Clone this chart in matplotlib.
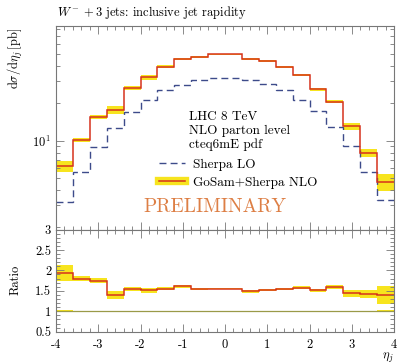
import numpy as np
import matplotlib
matplotlib.use("Agg")
import matplotlib.pyplot as plt
from matplotlib.lines import Line2D
from matplotlib.ticker import MultipleLocator, FixedLocator, NullFormatter, LogLocator

# ---- data ----
edges = np.linspace(-4, 4, 21)
nlo = [6.25, 10.1, 15.6, 17.7, 26.5, 32.4, 39.5, 45.6, 47.6, 49.8,
       49.8, 45.6, 43.9, 39.5, 33.9, 26.0, 20.6, 13.0, 8.0, 4.67]
ratio = [1.94, 1.80, 1.75, 1.39, 1.55, 1.51, 1.55, 1.61, 1.55, 1.55,
         1.55, 1.485, 1.525, 1.55, 1.58, 1.51, 1.59, 1.44, 1.43, 1.40]
nlo_relerr = [0.10, 0.04, 0.035, 0.07, 0.035, 0.04, 0.025, 0.02, 0.02, 0.01,
              0.01, 0.02, 0.015, 0.02, 0.025, 0.03, 0.03, 0.06, 0.07, 0.16]
lo_relerr = [0.02, 0.015, 0.012, 0.004, 0.003, 0.003, 0.003, 0.003, 0.003, 0.003,
             0.003, 0.003, 0.003, 0.003, 0.003, 0.003, 0.003, 0.004, 0.012, 0.02]
xticks = [-4, -3, -2, -1, 0, 1, 2, 3, 4]
xticklabels = ["-4", "-3", "-2", "-1", "0", "1", "2", "3", "4"]
rticks = [0.5, 1, 1.5, 2, 2.5, 3]
rticklabels = ["0.5", "1", "1.5", "2", "2.5", "3"]

nlo = np.array(nlo)
ratio_arr = np.array(ratio)
lo = nlo / ratio_arr
nlo_err = np.array(nlo_relerr)
lo_err = np.array(lo_relerr)

plt.rcParams["font.family"] = ["cmr10", "DejaVu Serif"]
plt.rcParams["mathtext.fontset"] = "cm"
plt.rcParams["axes.unicode_minus"] = False
plt.rcParams["axes.formatter.use_mathtext"] = True

RED = "#d6321c"
YEL = "#f7e41e"
BLUE = "#3d4b8a"
AXC = "#777777"

fig = plt.figure(figsize=(3.99, 3.64), dpi=100)
W, H = 399.0, 364.0
ax = fig.add_axes([56 / W, 1 - 229.5 / H, 338 / W, (229.5 - 26) / H])
rx = fig.add_axes([56 / W, 1 - 331.7 / H, 338 / W, (331.7 - 229.5) / H], sharex=ax)

# main panel
ax.stairs(nlo * (1 + nlo_err), edges, baseline=nlo * (1 - nlo_err), fill=True,
          color=YEL, lw=0)
ax.stairs(lo, edges, color=BLUE, lw=1.0, linestyle=(0, (5, 3)), baseline=None)
ax.stairs(nlo, edges, color=RED, lw=1.1, baseline=None)
ax.set_yscale("log")
ax.set_ylim(1.92, 84)
ax.set_xlim(-4, 4)

# ratio panel
rx.stairs(1 + lo_err, edges, baseline=1 - lo_err, fill=True, color=YEL, lw=0)
rx.axhline(1.0, color="#9a9a48", lw=0.9)
rx.stairs(ratio_arr * (1 + nlo_err), edges, baseline=ratio_arr * (1 - nlo_err),
          fill=True, color=YEL, lw=0)
rx.stairs(ratio_arr, edges, color=RED, lw=1.1, baseline=None)
rx.set_ylim(0.5, 3.0)
rx.set_xlim(-4, 4)

for a in (ax, rx):
    for s in a.spines.values():
        s.set_color(AXC)
        s.set_linewidth(0.8)
    a.tick_params(which="both", direction="in", top=True, right=True,
                  color=AXC, width=0.6, labelsize=9)
    a.tick_params(which="major", length=6)
    a.tick_params(which="minor", length=3)
    a.xaxis.set_major_locator(FixedLocator(xticks))
    a.xaxis.set_minor_locator(MultipleLocator(0.2))

ax.yaxis.set_major_locator(LogLocator(base=10, numticks=10))
ax.yaxis.set_minor_locator(LogLocator(base=10, subs=np.arange(2, 10), numticks=20))
ax.yaxis.set_minor_formatter(NullFormatter())
ax.tick_params(axis="x", labelbottom=False)

rx.set_xticks(xticks)
rx.set_xticklabels(xticklabels)
rx.set_yticks(rticks)
rx.set_yticklabels(rticklabels)
rx.yaxis.set_minor_locator(MultipleLocator(0.1))
rx.tick_params(axis="x", pad=5)

# labels
fig.text(57 / W, 1 - 12.5 / H, r"$W^- + 3$ jets: inclusive jet rapidity",
         ha="left", va="center", fontsize=9)
fig.text(15 / W, 1 - 28 / H, r"$\mathrm{d}\sigma/\mathrm{d}\eta_j\,[\mathrm{pb}]$",
         rotation=90, ha="center", va="top", fontsize=9)
fig.text(15 / W, 1 - 280 / H, "Ratio", rotation=90, ha="center", va="center",
         fontsize=9)
fig.text(394 / W, 1 - 358 / H, r"$\eta_j$", ha="right", va="center", fontsize=9)

ax.text(0.394, 0.555, "LHC 8 TeV", transform=ax.transAxes, fontsize=9.5,
        ha="left", va="center")
ax.text(0.394, 0.486, "NLO parton level", transform=ax.transAxes, fontsize=9.5,
        ha="left", va="center")
ax.text(0.394, 0.416, "cteq6mE pdf", transform=ax.transAxes, fontsize=9.5,
        ha="left", va="center")
ax.text(0.47, 0.11, "PRELIMINARY", transform=ax.transAxes, fontsize=14,
        color="#dd7f45", ha="center", va="center")

handles = [Line2D([], [], color=BLUE, lw=1.0, linestyle=(0, (5, 3))),
           (Line2D([], [], color=YEL, lw=6), Line2D([], [], color=RED, lw=1.1))]
labels = ["Sherpa LO", "GoSam+Sherpa NLO"]
ax.legend(handles, labels, loc="upper left", bbox_to_anchor=(0.305, 0.35),
          frameon=False, fontsize=9.5, handlelength=2.0, handletextpad=0.6,
          labelspacing=0.45, borderpad=0, borderaxespad=0)

fig.savefig("out.png", dpi=100)
